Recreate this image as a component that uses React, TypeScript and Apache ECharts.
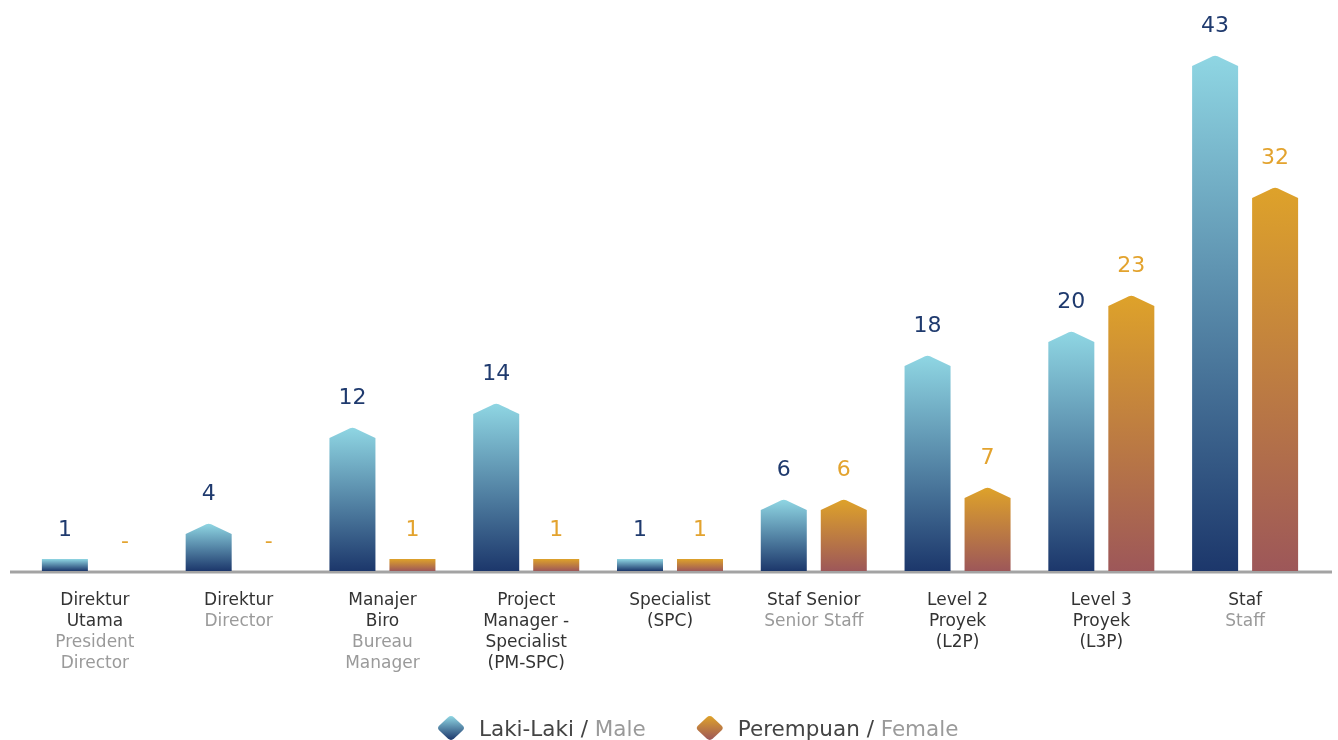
import React, { useEffect, useRef } from "react";
import * as echarts from "echarts";

const categoriesId = [
  "Direktur\nUtama",
  "Direktur",
  "Manajer\nBiro",
  "Project\nManager -\nSpecialist\n(PM-SPC)",
  "Specialist\n(SPC)",
  "Staf Senior",
  "Level 2\nProyek\n(L2P)",
  "Level 3\nProyek\n(L3P)",
  "Staf",
];
const categoriesEn = [
  "President\nDirector",
  "Director",
  "Bureau\nManager",
  "",
  "",
  "Senior Staff",
  "",
  "",
  "Staff",
];
const maleValues = [1, 4, 12, 14, 1, 6, 18, 20, 43];
const femaleValues = [0, 0, 1, 1, 1, 6, 7, 23, 32];

const FONT = "'DejaVu Sans', sans-serif";

const maleGrad = () =>
  new echarts.graphic.LinearGradient(0, 0, 0, 1, [
    { offset: 0, color: "#8fd6e3" },
    { offset: 1, color: "#1c376b" },
  ]);
const femaleGrad = () =>
  new echarts.graphic.LinearGradient(0, 0, 0, 1, [
    { offset: 0, color: "#dea22a" },
    { offset: 1, color: "#9d5759" },
  ]);

function makeRender(offset: number, grad: () => any, labelColor: string) {
  return (params: any, api: any) => {
    const idx = api.value(0);
    const v = api.value(1);
    const base = api.coord([idx, 0]);
    const top = api.coord([idx, v]);
    const w = 46;
    const cx = base[0] + offset;
    const x0 = cx - w / 2;
    const x1 = cx + w / 2;
    const yb = base[1];
    const yt = top[1];
    const h = yb - yt;
    const children: any[] = [];
    if (h > 0) {
      let d: string;
      if (h > 20) {
        const peak = 11;
        d =
          `M${x0},${yb} L${x0},${yt + peak} L${cx - 5},${yt + 2.4} ` +
          `Q${cx},${yt - 1} ${cx + 5},${yt + 2.4} L${x1},${yt + peak} L${x1},${yb} Z`;
      } else {
        d = `M${x0},${yb} L${x0},${yt} L${x1},${yt} L${x1},${yb} Z`;
      }
      children.push({
        type: "path",
        shape: { pathData: d },
        style: { fill: grad() },
      });
    }
    children.push({
      type: "text",
      style: {
        x: cx,
        y: yt - 31,
        text: v === 0 ? "-" : String(v),
        fill: labelColor,
        font: `22px ${FONT}`,
        textAlign: "center",
        textVerticalAlign: "middle",
      },
    });
    return { type: "group", children };
  };
}

const ICON =
  "path://M10,1.8 Q13,-0.8 16,1.8 L24.2,9.5 Q26.8,12 24.2,14.5 L16,22.2 Q13,24.8 10,22.2 L1.8,14.5 Q-0.8,12 1.8,9.5 Z";

export default function App() {
  const ref = useRef<HTMLDivElement>(null);
  useEffect(() => {
    const chart = echarts.init(ref.current!, undefined, { renderer: "svg" });
    const option: any = {
      animation: false,
      grid: { left: 23, right: 21, top: 31, bottom: 169 },
      xAxis: {
        type: "category",
        data: categoriesId.map((_, i) => String(i)),
        axisLine: { show: false },
        axisTick: { show: false },
        axisLabel: {
          interval: 0,
          margin: 17,
          formatter: (_v: string, i: number) => {
            const a = categoriesId[i]
              .split("\n")
              .map((s) => `{a|${s}}`)
              .join("\n");
            const bs = categoriesEn[i]
              ? "\n" +
                categoriesEn[i]
                  .split("\n")
                  .map((s) => `{b|${s}}`)
                  .join("\n")
              : "";
            return a + bs;
          },
          rich: {
            a: {
              fontFamily: FONT,
              fontSize: 17,
              fontWeight: 500,
              color: "#333333",
              lineHeight: 21,
              align: "center",
            },
            b: {
              fontFamily: FONT,
              fontSize: 17,
              color: "#9a9a9a",
              lineHeight: 21,
              align: "center",
            },
          },
        },
      },
      yAxis: { type: "value", min: 0, max: 45, show: false },
      legend: {
        left: 438,
        top: 716,
        padding: 0,
        itemWidth: 26,
        itemHeight: 24,
        itemGap: 51,
        data: [
          { name: "Laki-Laki", icon: ICON },
          { name: "Perempuan", icon: ICON },
        ],
        formatter: (name: string) =>
          name === "Laki-Laki" ? "{a|Laki-Laki /} {b|Male}" : "{a|Perempuan /} {b|Female}",
        textStyle: {
          fontSize: 21.5,
          lineHeight: 24,
          fontFamily: FONT,
          rich: {
            a: {
              fontFamily: FONT,
              fontSize: 21.5,
              lineHeight: 24,
              color: "#444444",
              padding: [0, 0, 0, 10],
            },
            b: { fontFamily: FONT, fontSize: 21.5, lineHeight: 24, color: "#9a9a9a" },
          },
        },
      },
      graphic: [
        {
          type: "line",
          shape: { x1: 10, y1: 572, x2: 1332, y2: 572 },
          style: { stroke: "#a3a3a3", lineWidth: 3 },
          z: 0,
        },
      ],
      series: [
        {
          name: "Laki-Laki",
          type: "custom",
          itemStyle: { color: maleGrad() },
          encode: { x: 0, y: 1 },
          data: maleValues.map((v, i) => [i, v]),
          renderItem: makeRender(-30, maleGrad, "#1f3a6e"),
          z: 2,
        },
        {
          name: "Perempuan",
          type: "custom",
          itemStyle: { color: femaleGrad() },
          encode: { x: 0, y: 1 },
          data: femaleValues.map((v, i) => [i, v]),
          renderItem: makeRender(30, femaleGrad, "#e3a32e"),
          z: 2,
        },
      ],
    };
    chart.setOption(option);
    return () => chart.dispose();
  }, []);
  return (
    <div
      ref={ref}
      style={{ position: "fixed", left: 0, top: 0, width: 1338, height: 740 }}
    />
  );
}
